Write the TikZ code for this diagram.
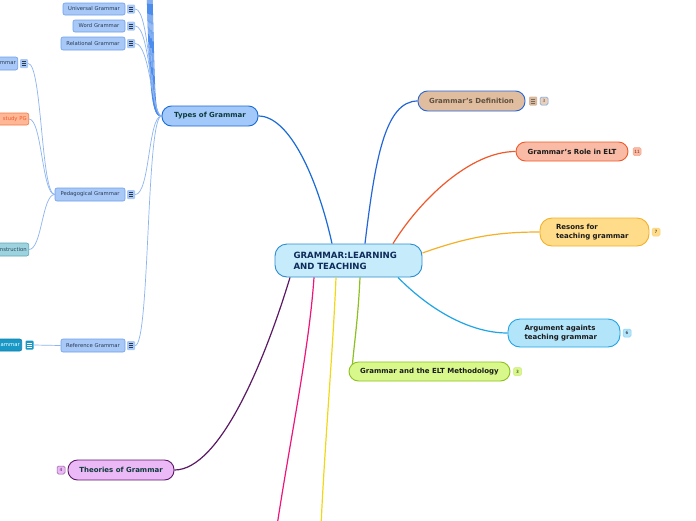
\documentclass[tikz,border=0pt]{standalone}
\usepackage{fontspec}
\setmainfont{DejaVu Sans}
\usetikzlibrary{calc}
\definecolor{cfill}{HTML}{C6ECFB}\definecolor{cdraw}{HTML}{2B8CD0}\definecolor{ctext}{HTML}{0E2A5A}
\definecolor{tfill}{HTML}{A3C8FA}\definecolor{tdraw}{HTML}{1A6BD6}\definecolor{ttext}{HTML}{0D3B3B}
\definecolor{kfill}{HTML}{A8C8F8}\definecolor{kdraw}{HTML}{6F9FEA}\definecolor{ktext}{HTML}{2A3A50}
\definecolor{dfill}{HTML}{E0BD9F}\definecolor{ddraw}{HTML}{2466D8}\definecolor{dtext}{HTML}{5E5040}
\definecolor{dnote}{HTML}{D8B89C}\definecolor{dnotel}{HTML}{7A6A5A}
\definecolor{rfill}{HTML}{F9BBA5}\definecolor{rdraw}{HTML}{F0582A}
\definecolor{yfill}{HTML}{FEDC8A}\definecolor{ydraw}{HTML}{F5B027}
\definecolor{afill}{HTML}{B2E4FA}\definecolor{adraw}{HTML}{1FA5E6}
\definecolor{gfill}{HTML}{D9F88B}\definecolor{gdraw}{HTML}{8CC01E}
\definecolor{pfill}{HTML}{EBB9F6}\definecolor{pdraw}{HTML}{5B1965}
\definecolor{sfill}{HTML}{FFB796}\definecolor{sdraw}{HTML}{F07A45}\definecolor{stext}{HTML}{F05A28}
\definecolor{nfill}{HTML}{9DD3DF}\definecolor{ndraw}{HTML}{5EA7B8}\definecolor{ntext}{HTML}{2A4A58}
\definecolor{efill}{HTML}{1798C6}\definecolor{edraw}{HTML}{1080B0}
\definecolor{pink}{HTML}{F0147A}\definecolor{yel}{HTML}{F0D818}
\definecolor{lightconn}{HTML}{8CB4F0}\definecolor{midconn}{HTML}{4C8CEC}
\definecolor{darktxt}{HTML}{1A1A1A}
\begin{document}
\begin{tikzpicture}[x=1pt,y=-1pt,
  mainbox/.style={draw, line width=0.9pt, inner sep=0pt, rounded corners=9.5pt,
    font=\fontsize{7}{8.5}\selectfont\bfseries},
  childbox/.style={draw, line width=0.6pt, inner sep=0pt, rounded corners=2pt,
    font=\fontsize{5.3}{6}\selectfont},
  badge/.style={draw, line width=0.5pt, inner sep=0pt, rounded corners=1.5pt,
    minimum width=8pt, minimum height=8pt, font=\fontsize{4.3}{5}\selectfont},
  noteicon/.style 2 args={fill=#1, inner sep=0pt, rounded corners=1pt,
    minimum width=8pt, minimum height=9pt,
    path picture={\foreach \dy in {-2.2,0,2.2}{\draw[#2,line width=0.6pt]
      ([xshift=-2.3pt,yshift=\dy pt]path picture bounding box.center) --
      ([xshift=2.3pt,yshift=\dy pt]path picture bounding box.center);}}},
  conn/.style={line width=1.2pt},
  thin/.style={line width=0.7pt, draw=lightconn},
  band/.style={line width=0.8pt, draw=midconn}
]
\useasboundingbox (0,0) rectangle (696,520);
\clip (0,0) rectangle (696,520);
\fill[white] (0,0) rectangle (696,520);

% central
\node[mainbox, fill=cfill, draw=cdraw, text=ctext, rounded corners=12pt,
  minimum width=147pt, minimum height=33pt, text width=110pt, align=left,
  font=\fontsize{8.6}{10.8}\selectfont\bfseries] (c) at (348.5,260.5)
  {GRAMMAR:LEARNING\\AND TEACHING};

% main topics
\node[mainbox, fill=tfill, draw=tdraw, text=ttext, minimum width=96pt, minimum height=20pt] (types) at (210,116) {Types of Grammar};
\node[mainbox, fill=dfill, draw=ddraw, text=dtext, minimum width=107pt, minimum height=20pt] (def) at (471.5,101) {Grammar's Definition};
\node[noteicon={dnote}{dnotel}] (defnote) at (533,101) {};
\node[badge, fill=dfill!70, draw=kdraw, text=dtext] (defb) at (544,101) {3};
\node[mainbox, fill=rfill, draw=rdraw, text=darktxt, minimum width=112pt, minimum height=19pt] (role) at (572,151.5) {Grammar's Role in ELT};
\node[badge, fill=rfill, draw=rfill!80!rdraw, text=rdraw!50!black] (roleb) at (637,151.5) {11};
\node[mainbox, fill=yfill, draw=ydraw, text=darktxt, rounded corners=12pt, minimum width=109pt, minimum height=28pt, text width=77pt, align=left] (res) at (594.5,232) {Resons for\\teaching grammar};
\node[badge, fill=yfill, draw=yfill!85!ydraw, text=darktxt] (resb) at (656,232) {7};
\node[mainbox, fill=afill, draw=adraw, text=darktxt, rounded corners=12pt, minimum width=112pt, minimum height=28pt, text width=79pt, align=left] (arg) at (564,333) {Argument againts\\teaching grammar};
\node[badge, fill=afill, draw=afill!70!adraw, text=darktxt] (argb) at (627,333) {6};
\node[mainbox, fill=gfill, draw=gdraw, text=darktxt, minimum width=161pt, minimum height=19pt] (elt) at (429.5,371.5) {Grammar and the ELT Methodology};
\node[badge, fill=gfill, draw=gfill!80!gdraw, text=darktxt] (eltb) at (517.5,371.5) {3};
\node[mainbox, fill=pfill, draw=pdraw, text=ttext, minimum width=106pt, minimum height=20pt] (theo) at (121,470) {Theories of Grammar};
\node[badge, fill=pfill, draw=pdraw!60!pfill, text=pdraw] (theob) at (61,470) {4};

% children of Types of Grammar
\node[childbox, fill=kfill, draw=kdraw, text=ktext, minimum width=62pt, minimum height=12pt] (univ) at (94,9) {Universal Grammar};
\node[noteicon={kfill}{ktext}] (univi) at (131,9) {};
\node[childbox, fill=kfill, draw=kdraw, text=ktext, minimum width=52pt, minimum height=12pt] (word) at (99,26) {Word Grammar};
\node[noteicon={kfill}{ktext}] (wordi) at (131,26) {};
\node[childbox, fill=kfill, draw=kdraw, text=ktext, minimum width=64pt, minimum height=13pt] (rel) at (93,43.5) {Relational Grammar};
\node[noteicon={kfill}{ktext}] (reli) at (131,43.5) {};
\node[childbox, fill=kfill, draw=kdraw, text=ktext, minimum width=70pt, minimum height=13pt] (ped) at (90,194.5) {Pedagogical Grammar};
\node[noteicon={kfill}{ktext}] (pedi) at (131,194.5) {};
\node[childbox, fill=kfill, draw=kdraw, text=ktext, minimum width=64pt, minimum height=13pt] (ref) at (93,345.5) {Reference Grammar};
\node[noteicon={kfill}{ktext}] (refi) at (131,345.5) {};

% children of Pedagogical / Reference (partly off the page)
\node[childbox, fill=kfill, draw=kdraw, text=ktext, anchor=east, minimum width=40pt, minimum height=13pt, text width=36pt, align=right] (pg1) at (18,63.5) {mmar};
\node[noteicon={kfill}{ktext}] (pg1i) at (24,63.5) {};
\node[childbox, fill=sfill, draw=sdraw, text=stext, anchor=east, minimum width=50pt, minimum height=12pt, text width=46pt, align=right] (pg2) at (29,119) {study PG};
\node[childbox, fill=nfill, draw=ndraw, text=ntext, anchor=east, minimum width=50pt, minimum height=13pt, text width=46pt, align=right] (pg3) at (29,249.5) {nstruction};
\node[childbox, fill=efill, draw=edraw, text=white, anchor=east, minimum width=40pt, minimum height=12pt, text width=36pt, align=right] (rf1) at (22,345) {ammar};
\node[noteicon={efill}{white}] (rf1i) at (29.5,345) {};

% off-page endpoints
\coordinate (up1) at (147,-8);
\coordinate (up2) at (148,-8);
\coordinate (up3) at (149,-8);
\coordinate (up4) at (150,-8);
\coordinate (up5) at (151,-8);
\coordinate (up6) at (152,-8);
\coordinate (pinkend) at (277,526);
\coordinate (yelend) at (321,526);
\coordinate (eltin) at (352.5,364);

% main connectors
\draw[conn, draw=tdraw] ([xshift=-16.5pt]c.north) .. controls (318,180) and (290,116) .. (types.east);
\draw[conn, draw=ddraw] ([xshift=16.5pt]c.north) .. controls (375,160) and (385,101) .. (def.west);
\draw[conn, draw=rdraw] ([xshift=44.5pt]c.north) .. controls (420,200) and (470,151.5) .. (role.west);
\draw[conn, draw=ydraw] ([yshift=7.5pt]c.east) .. controls (470,236) and (500,232) .. (res.west);
\draw[conn, draw=adraw] ([xshift=49.5pt]c.south) .. controls (430,310) and (470,333) .. (arg.west);
\draw[conn, draw=gdraw] ([xshift=11.5pt]c.south) .. controls (358,320) and (354,345) .. (eltin);
\draw[conn, draw=pdraw] ([xshift=-58.5pt]c.south) .. controls (265,360) and (220,470) .. (theo.east);
\draw[conn, draw=pink] ([xshift=-34.5pt]c.south) .. controls (309,350) and (290,440) .. (pinkend);
\draw[conn, draw=yel] ([xshift=-12.5pt]c.south) .. controls (333,350) and (325,440) .. (yelend);

% Types of Grammar children
\draw[band] (up1) .. controls (150,95) and (152,116) .. (types.west);
\draw[band] (up2) .. controls (151,95) and (152,116) .. (types.west);
\draw[band] (up3) .. controls (152,95) and (152,116) .. (types.west);
\draw[band] (up4) .. controls (153,95) and (153,116) .. (types.west);
\draw[band] (up5) .. controls (154,95) and (153,116) .. (types.west);
\draw[band] (up6) .. controls (155,95) and (154,116) .. (types.west);
\draw[thin] (univi.east) .. controls (150,9) and (150,116) .. (types.west);
\draw[thin] (wordi.east) .. controls (150,26) and (151,116) .. (types.west);
\draw[thin] (reli.east) .. controls (150,43.5) and (152,116) .. (types.west);
\draw[thin] (pedi.east) .. controls (150,194.5) and (148,116) .. (types.west);
\draw[thin] (refi.east) .. controls (150,345.5) and (146,116) .. (types.west);

% Pedagogical / Reference children
\draw[thin] (ped.west) .. controls (41,194.5) and (42,63.5) .. (pg1i.east);
\draw[thin] (ped.west) .. controls (42,194.5) and (42,119) .. (pg2.east);
\draw[thin] (ped.west) .. controls (42,194.5) and (42,249.5) .. (pg3.east);
\draw[thin] (ref.west) -- (rf1i.east);
\end{tikzpicture}
\end{document}
